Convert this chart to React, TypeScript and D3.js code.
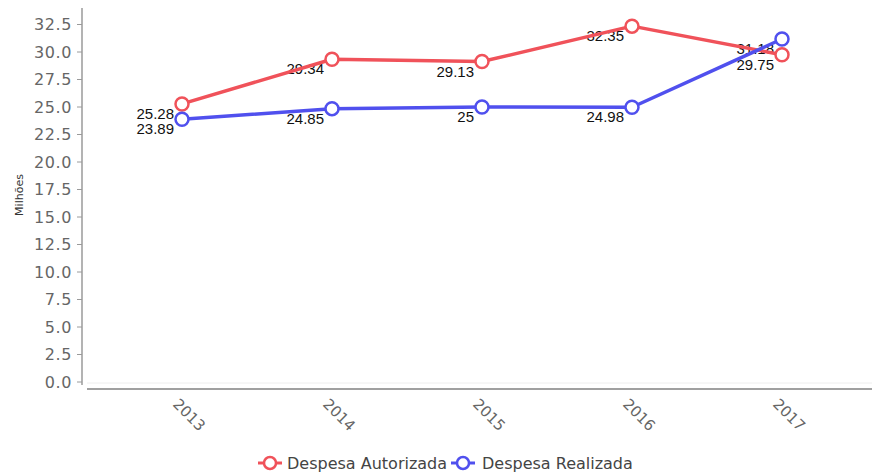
import React from "react";
import * as d3 from "d3";

const years = ["2013", "2014", "2015", "2016", "2017"];
const autorizada = [25.28, 29.34, 29.13, 32.35, 29.75];
const realizada = [23.89, 24.85, 25, 24.98, 31.18];
const yTicks = [0, 2.5, 5, 7.5, 10, 12.5, 15, 17.5, 20, 22.5, 25, 27.5, 30, 32.5];
const seriesNames = ["Despesa Autorizada", "Despesa Realizada"];
const seriesColors = ["#f0525a", "#5050ee"];

const W = 874;
const H = 474;

export default function App() {
  const x = d3.scalePoint<string>().domain(years).range([182, 782]);
  const y = d3.scaleLinear().domain([0, 34]).range([382, 8]);
  const line = d3
    .line<number>()
    .x((_, i) => x(years[i]) as number)
    .y((d) => y(d));
  const series = [autorizada, realizada];
  const tickFont = "'DejaVu Sans', Verdana, sans-serif";

  return (
    <svg
      width={W}
      height={H}
      style={{ position: "absolute", left: 0, top: 0, background: "#fff" }}
    >
      {/* faint baseline grid */}
      <line x1={87} x2={872} y1={y(0) + 1} y2={y(0) + 1} stroke="#eeeeee" strokeWidth={1} />
      {/* y axis */}
      <line x1={82} x2={82} y1={y(34)} y2={y(0) + 3} stroke="#9a9a9a" strokeWidth={1.5} />
      {yTicks.map((t) => (
        <g key={t}>
          <line x1={77} x2={82} y1={y(t)} y2={y(t)} stroke="#9a9a9a" strokeWidth={1} />
          <text
            x={72}
            y={y(t)}
            textAnchor="end"
            dominantBaseline="central"
            fontFamily={tickFont}
            fontSize={16}
            fill="#666"
            letterSpacing={0.6}
          >
            {t.toFixed(1)}
          </text>
        </g>
      ))}
      <text
        transform={`translate(19, 195) rotate(-90)`}
        textAnchor="middle"
        dominantBaseline="central"
        fontFamily={tickFont}
        fontSize={11}
        fill="#333"
      >
        Milhões
      </text>
      {/* x axis */}
      <line x1={87} x2={872} y1={389} y2={389} stroke="#a0a0a0" strokeWidth={2} />
      {years.map((yr) => (
        <text
          key={yr}
          transform={`translate(${(x(yr) as number) + 7}, 415) rotate(45)`}
          textAnchor="middle"
          dominantBaseline="central"
          fontFamily={tickFont}
          fontSize={15}
          fill="#666"
        >
          {yr}
        </text>
      ))}
      {/* value labels */}
      {series.map((s, si) =>
        s.map((v, i) => (
          <text
            key={`l${si}-${i}`}
            x={(x(years[i]) as number) - 8}
            y={y(v) + 15}
            textAnchor="end"
            fontFamily="'Liberation Sans', Arial, sans-serif"
            fontSize={15}
            fill="#111"
          >
            {String(v)}
          </text>
        ))
      )}
      {/* lines */}
      {series.map((s, si) => (
        <path
          key={`p${si}`}
          d={line(s) || ""}
          fill="none"
          stroke={seriesColors[si]}
          strokeWidth={3.5}
          strokeLinejoin="round"
        />
      ))}
      {series.map((s, si) =>
        s.map((v, i) => (
          <circle
            key={`c${si}-${i}`}
            cx={x(years[i]) as number}
            cy={y(v)}
            r={6.5}
            fill="#fff"
            stroke={seriesColors[si]}
            strokeWidth={2.5}
          />
        ))
      )}
      {/* legend */}
      {[
        { cx: 270, tx: 287 },
        { cx: 463, tx: 482 },
      ].map((p, i) => (
        <g key={`lg${i}`}>
          <line x1={p.cx - 12} x2={p.cx + 12} y1={463} y2={463} stroke={seriesColors[i]} strokeWidth={3} />
          <circle cx={p.cx} cy={463} r={6} fill="#fff" stroke={seriesColors[i]} strokeWidth={2.5} />
          <text
            x={p.tx}
            y={463}
            dominantBaseline="central"
            fontFamily={tickFont}
            fontSize={16}
            fill="#444"
          >
            {seriesNames[i]}
          </text>
        </g>
      ))}
    </svg>
  );
}
